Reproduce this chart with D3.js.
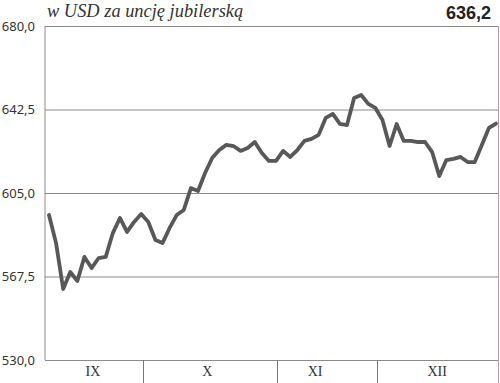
<!DOCTYPE html>
<html>
<head>
<meta charset="utf-8">
<script src="https://cdn.jsdelivr.net/npm/d3@7"></script>
<style>
  body { margin: 0; background: #fff; }
  .y-axis text { font-family: "Noto Sans", "DejaVu Sans", sans-serif; font-size: 13px; fill: #333; }
  .y-axis line { stroke: #8a8a8a; }
  .month-label { font-family: "Liberation Serif", serif; font-size: 14px; fill: #333; }
</style>
</head>
<body>
<div id="chart"></div>
<script>
// gold price, USD per troy ounce (one value per session)
const prices = [
  595.1, 582.5, 561.9, 569.5, 565.5, 576.3, 571.3, 575.8, 576.3, 587.0,
  593.8, 587.5, 592.0, 595.6, 592.0, 583.9, 582.5, 589.3, 595.1, 597.4,
  607.2, 605.9, 614.0, 620.7, 624.3, 626.6, 626.1, 623.9, 625.2, 627.9,
  623.0, 619.4, 619.4, 623.9, 621.2, 624.3, 628.4, 629.3, 631.1, 638.7,
  640.5, 636.0, 635.5, 647.7, 649.0, 645.0, 643.2, 637.8, 626.1, 636.0,
  628.4, 628.4, 627.9, 627.9, 623.4, 612.6, 619.8, 620.3, 621.2, 618.9,
  618.9, 626.6, 634.2, 636.2
];
const yTicks = [530, 567.5, 605, 642.5, 680];
const months = ["IX", "X", "XI", "XII"];
// month label positions and month borders, in session index units
const monthLabelPos = [6.2, 22.3, 37.5, 54.7];
const monthBreaks = [13.25, 32.14, 46.24];
const titleText = "w USD za uncję jubilerską";
const lastValue = "636,2";

const margin = { top: 26, right: 2, bottom: 23, left: 45 };
const totalW = 500, totalH = 383;
const width = totalW - margin.left - margin.right;
const height = totalH - margin.top - margin.bottom;

const svg = d3.select("#chart").append("svg")
    .attr("width", totalW)
    .attr("height", totalH);

const g = svg.append("g")
    .attr("transform", `translate(${margin.left},${margin.top})`);

const x = d3.scaleLinear()
    .domain([-0.56, prices.length - 1 + 0.28])
    .range([0, width]);
const y = d3.scaleLinear()
    .domain([530, 680])
    .range([height, 0]);

// horizontal grid + labels
const yAxis = d3.axisLeft(y)
    .tickValues(yTicks)
    .tickSize(-width)
    .tickPadding(10)
    .tickFormat(d => d.toFixed(1).replace(".", ","));
g.append("g")
    .attr("class", "y-axis")
    .call(yAxis)
    .call(a => a.select(".domain").remove());

// left frame line
g.append("line")
    .attr("x1", 0).attr("x2", 0)
    .attr("y1", 0).attr("y2", height)
    .attr("stroke", "#8a8a8a");

// right frame line
g.append("line")
    .attr("x1", width + 0.5).attr("x2", width + 0.5)
    .attr("y1", 0).attr("y2", height + margin.bottom)
    .attr("stroke", "#b49aa4");

// month separators below the axis
g.selectAll(".month-break")
    .data(monthBreaks)
    .enter()
    .append("line")
    .attr("class", "month-break")
    .attr("x1", d => Math.round(x(d)) + 0.5)
    .attr("x2", d => Math.round(x(d)) + 0.5)
    .attr("y1", height)
    .attr("y2", height + margin.bottom)
    .attr("stroke", "#777");

g.selectAll(".month-label")
    .data(months)
    .enter()
    .append("text")
    .attr("class", "month-label")
    .attr("x", (d, i) => x(monthLabelPos[i]))
    .attr("y", height + 13)
    .attr("text-anchor", "middle")
    .attr("dominant-baseline", "middle")
    .text(d => d);

// price line
const line = d3.line()
    .x((d, i) => x(i))
    .y(d => y(d));
g.append("path")
    .datum(prices)
    .attr("fill", "none")
    .attr("stroke", "#585858")
    .attr("stroke-width", 3.8)
    .attr("stroke-linejoin", "round")
    .attr("stroke-linecap", "round")
    .attr("d", line);

// title and last value
svg.append("text")
    .attr("x", 47)
    .attr("y", 17)
    .attr("font-family", "'Liberation Serif', serif")
    .attr("font-style", "italic")
    .attr("font-size", 18.4)
    .attr("fill", "#333")
    .text(titleText);

svg.append("text")
    .attr("x", 491)
    .attr("y", 19)
    .attr("text-anchor", "end")
    .attr("font-family", "'Liberation Sans', Arial, sans-serif")
    .attr("font-weight", "bold")
    .attr("font-size", 18)
    .attr("fill", "#222")
    .text(lastValue);
</script>
</body>
</html>
